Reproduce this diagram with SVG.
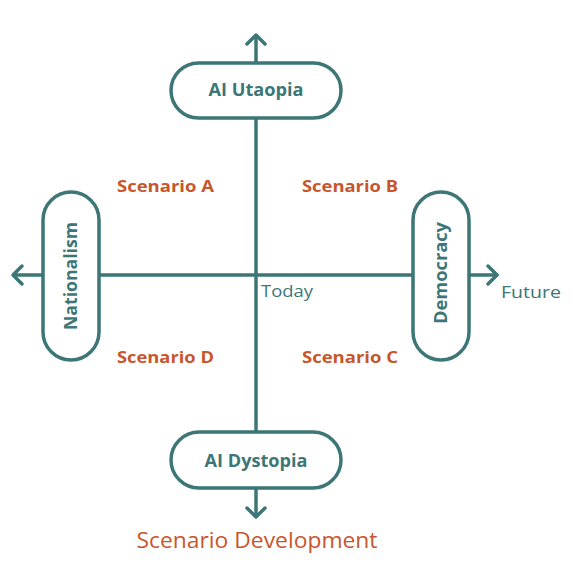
<svg xmlns="http://www.w3.org/2000/svg" width="576" height="576" viewBox="0 0 576 576">
<style>
.ln{stroke:#3d7676;stroke-width:3.5;fill:none;stroke-linecap:round;stroke-linejoin:round}
.pill{stroke:#3d7676;stroke-width:3.5;fill:#ffffff}
.nt{font-family:"Open Sans","Liberation Sans",sans-serif;font-weight:700;font-size:17px;fill:#3d7676;text-anchor:middle}
.sc{font-family:"Open Sans","Liberation Sans",sans-serif;font-weight:700;font-size:16.5px;fill:#c8562a}
.ax{font-family:"Open Sans","Liberation Sans",sans-serif;font-size:16.5px;fill:#3d7676}
</style>
<rect width="576" height="576" fill="#ffffff"/>
<g id="connectors">
<line class="ln" x1="256" y1="36" x2="256" y2="516"/>
<line class="ln" x1="14" y1="275" x2="497" y2="275"/>
<polyline class="ln" points="247,44 256,35 265,44"/>
<polyline class="ln" points="247,508 256,517 265,508"/>
<polyline class="ln" points="22,266 13,275 22,284"/>
<polyline class="ln" points="488,266 497,275 488,284"/>
</g>
<g id="ai-utaopia">
<rect class="pill" x="171" y="63" width="170" height="55" rx="27.5"/>
<text class="nt" x="256" y="96" textLength="95" lengthAdjust="spacingAndGlyphs">AI Utaopia</text>
</g>
<g id="ai-dystopia">
<rect class="pill" x="171" y="432" width="170" height="56" rx="28"/>
<text class="nt" x="256" y="467" textLength="103" lengthAdjust="spacingAndGlyphs">AI Dystopia</text>
</g>
<g id="nationalism">
<rect class="pill" x="43" y="192" width="56" height="168" rx="28"/>
<text class="nt" transform="translate(77,276) rotate(-90)" textLength="108" lengthAdjust="spacingAndGlyphs">Nationalism</text>
</g>
<g id="democracy">
<rect class="pill" x="413" y="192" width="56" height="168" rx="28"/>
<text class="nt" transform="translate(447,273) rotate(-90)" textLength="102" lengthAdjust="spacingAndGlyphs">Democracy</text>
</g>
<g id="labels">
<text class="sc" x="117" y="192" textLength="97" lengthAdjust="spacingAndGlyphs">Scenario A</text>
<text class="sc" x="302" y="192" textLength="96" lengthAdjust="spacingAndGlyphs">Scenario B</text>
<text class="sc" x="117" y="363" textLength="97" lengthAdjust="spacingAndGlyphs">Scenario D</text>
<text class="sc" x="302" y="363" textLength="96" lengthAdjust="spacingAndGlyphs">Scenario C</text>
<text class="ax" x="261" y="297" textLength="52" lengthAdjust="spacingAndGlyphs">Today</text>
<text class="ax" x="501" y="298" textLength="60" lengthAdjust="spacingAndGlyphs">Future</text>
<text class="ax" x="257" y="548" text-anchor="middle" style="fill:#c8562a;font-size:21px" textLength="241" lengthAdjust="spacingAndGlyphs">Scenario Development</text>
</g>
</svg>
